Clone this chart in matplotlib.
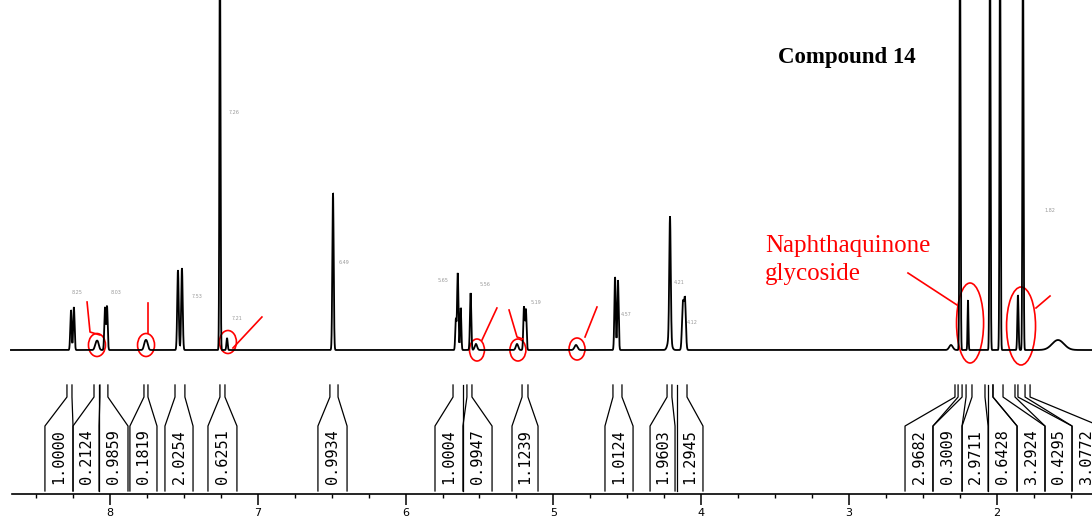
import numpy as np
import matplotlib
matplotlib.use("Agg")
import matplotlib.pyplot as plt
from matplotlib.patches import Ellipse

# ---------------- data ----------------
peak_ppm = [8.264, 8.244, 8.095, 8.082, 8.034, 8.020, 7.763, 7.750, 7.540, 7.513,
            7.256, 7.208, 6.491, 5.660, 5.647, 5.627, 5.560, 5.524, 5.246, 5.199,
            5.186, 4.847, 4.583, 4.563, 4.211, 4.214, 4.124, 4.110, 2.310, 2.249,
            2.195, 2.046, 1.978, 1.857, 1.823, 1.586]
peak_height = [40, 43, 6, 7, 42, 44, 7, 7, 80, 82,
               420, 12, 157, 30, 77, 42, 57, 6, 6, 43,
               40, 5, 73, 70, 122, 12, 46, 50, 5, 420,
               50, 420, 420, 55, 420, 10]
peak_sigma = [0.0045, 0.0045, 0.008, 0.008, 0.0045, 0.0045, 0.008, 0.008, 0.005, 0.005,
              0.0035, 0.004, 0.0045, 0.004, 0.0045, 0.004, 0.0045, 0.008, 0.008, 0.0045,
              0.0045, 0.01, 0.0045, 0.0045, 0.005, 0.012, 0.006, 0.006, 0.012, 0.0035,
              0.003, 0.0035, 0.0035, 0.004, 0.0035, 0.04]

int_values = ["1.0000", "0.2124", "0.9859", "0.1819", "2.0254", "0.6251", "0.9934",
              "1.0004", "0.9947", "1.1239", "1.0124", "1.9603", "1.2945",
              "2.9682", "0.3009", "2.9711", "0.6428", "3.2924", "0.4295", "3.0772"]
int_from = [8.291, 8.108, 8.068, 7.770, 7.560, 7.256, 6.512,
            5.679, 5.585, 5.212, 4.597, 4.231, 4.164,
            2.283, 2.235, 2.168, 2.059, 2.026, 1.877, 1.809]
int_to = [8.257, 8.074, 8.014, 7.743, 7.493, 7.222, 6.457,
          5.612, 5.551, 5.172, 4.536, 4.198, 4.096,
          2.262, 2.208, 2.080, 2.026, 1.958, 1.857, 1.775]
box_from = [8.440, 8.250, 8.074, 7.865, 7.628, 7.337, 6.593,
            5.801, 5.612, 5.280, 4.651, 4.346, 4.164,
            2.621, 2.432, 2.235, 2.059, 1.863, 1.674, 1.491]
box_to = [8.250, 8.074, 7.878, 7.682, 7.438, 7.141, 6.396,
          5.612, 5.415, 5.104, 4.461, 4.177, 3.988,
          2.432, 2.235, 2.059, 1.863, 1.674, 1.491, 1.302]

major_ticks = [2, 3, 4, 5, 6, 7, 8]
tick_labels = ["2", "3", "4", "5", "6", "7", "8"]

title_text = "Compound 14"
note_text = "Naphthaquinone\nglycoside"

# small peak-pick labels (ppm, intensity, text)
pick_ppm = [8.22, 7.96, 7.41, 7.14, 7.16, 6.42, 5.75, 5.46, 5.12, 4.51, 4.15, 4.06, 1.64]
pick_int = [57, 57, 54, 32, 237, 88, 70, 65, 48, 35, 67, 27, 140]
pick_txt = ["8.25", "8.03", "7.53", "7.21", "7.26", "6.49", "5.65", "5.56", "5.19",
            "4.57", "4.21", "4.12", "1.82"]

# red annotations: ellipses (ppm, intensity, width ppm, height)
ell_x = [8.088, 7.756, 7.202, 5.517, 5.240, 4.840, 2.181, 1.836]
ell_y = [5, 5, 8, 0, 0, 1, 27, 24]
ell_w = [0.115, 0.115, 0.115, 0.101, 0.108, 0.108, 0.183, 0.196]
ell_h = [23, 23, 23, 22, 22, 22, 80, 78]
red_lines = [
    ([8.155, 8.135, 8.068], [48, 18, 15]),
    ([7.743, 7.743], [47, 17]),
    ([7.168, 6.972], [2, 33]),
    ([5.483, 5.382], [10, 42]),
    ([5.300, 5.246, 5.206], [40, 13, 11]),
    ([4.786, 4.705], [13, 43]),
    ([2.601, 2.269], [77, 45]),
    ([1.735, 1.640], [42, 54]),
]

# ---------------- figure ----------------
W, H = 1092, 519
XL, XR = 8.744, 1.356
fig = plt.figure(figsize=(W / 100, H / 100), dpi=100)
fig.patch.set_facecolor("white")

# spectrum axes: baseline at pixel row 350
ax = fig.add_axes([0, (H - 355) / H, 1, 355 / H])
ax.set_xlim(XL, XR)
ax.set_ylim(-5, 350)
ax.axis("off")

x = np.linspace(8.67, XR, 16000)
y = np.zeros_like(x)
for p, h, s in zip(peak_ppm, peak_height, peak_sigma):
    y += h * np.exp(-0.5 * ((x - p) / s) ** 2)
ax.plot(x, y, color="black", lw=1.3, solid_joinstyle="miter")

for px, py, t in zip(pick_ppm, pick_int, pick_txt):
    ax.text(px, py, t, fontsize=3.5, color="#9a9a9a", ha="center", va="center")

for cx, cy, w, h in zip(ell_x, ell_y, ell_w, ell_h):
    ax.add_patch(Ellipse((cx, cy), w, h, fill=False, edgecolor="red", lw=1.2,
                         clip_on=False))
for xs, ys in red_lines:
    ax.plot(xs, ys, color="red", lw=1.2, clip_on=False)

ax.text(3.568, 90, note_text, color="red", fontsize=18, family="Liberation Serif",
        ha="left", va="center", linespacing=1.3)

fig.text(847 / W, 1 - 57 / H, title_text, fontsize=16.5, family="Liberation Serif",
         fontweight="bold", ha="center", va="center")

# integration + ppm axis
ai = fig.add_axes([0, (H - 494) / H, 1, 116 / H])
ai.set_xlim(XL, XR)
ai.set_ylim(0, 1)
ai.set_facecolor("none")
for s in ["top", "left", "right"]:
    ai.spines[s].set_visible(False)
ai.spines["bottom"].set_bounds(8.66, XR)
ai.spines["bottom"].set_linewidth(1.2)
ai.set_yticks([])
ai.set_xticks(major_ticks)
ai.set_xticklabels(tick_labels)
ai.set_xticks(np.arange(1.5, 8.75, 0.25), minor=True)
ai.tick_params(axis="x", which="major", direction="out", length=8, width=1.1,
               pad=2, labelsize=8)
ai.tick_params(axis="x", which="minor", direction="out", length=3, width=1.0)

y_top, y_bend, y_box, y_bot = 0.94, 0.836, 0.586, 0.026
for v, a, b, L, R in zip(int_values, int_from, int_to, box_from, box_to):
    ai.plot([a, a, L, L], [y_top, y_bend, y_box, y_bot], color="black", lw=0.9)
    ai.plot([b, b, R, R], [y_top, y_bend, y_box, y_bot], color="black", lw=0.9)
    ai.text((L + R) / 2, 0.32, v, rotation=90, ha="center", va="center",
            fontsize=11, family="DejaVu Sans Mono")

fig.savefig("out.png", dpi=100, facecolor="white")
